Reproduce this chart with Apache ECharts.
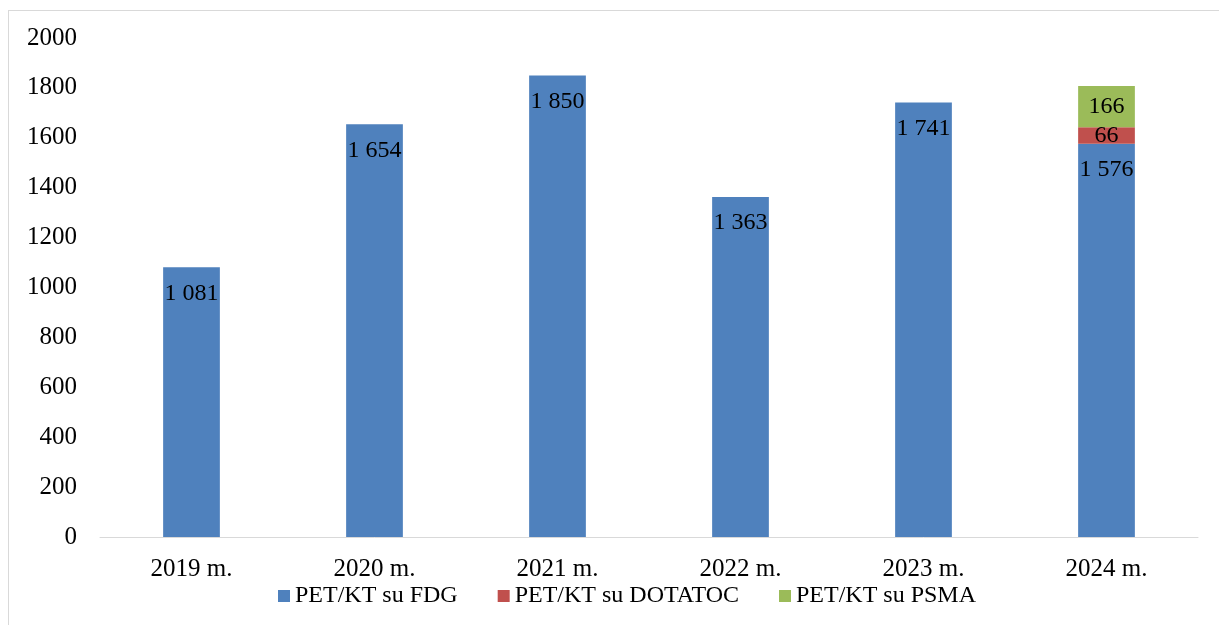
<!DOCTYPE html>
<html>
<head>
<meta charset="utf-8">
<script src="https://cdn.jsdelivr.net/npm/echarts@6/dist/echarts.min.js"></script>
<style>
html,body{margin:0;padding:0;background:#fff;}
#frame{position:absolute;left:8px;top:10px;width:1211px;height:615px;border-left:1px solid #d9d9d9;border-top:1px solid #d9d9d9;}
#chart{position:absolute;left:0;top:0;width:1219px;height:625px;}
</style>
</head>
<body>
<div id="frame"></div>
<div id="chart"></div>
<script>
const categories = ['2019 m.', '2020 m.', '2021 m.', '2022 m.', '2023 m.', '2024 m.'];
const fdg = [1081, 1654, 1850, 1363, 1741, 1576];
const dotatoc = [null, null, null, null, null, 66];
const psma = [null, null, null, null, null, 166];
const seriesNames = ['PET/KT su FDG', 'PET/KT su DOTATOC', 'PET/KT su PSMA'];
const yTicks = [0, 2000, 200];

const FONT = '"Liberation Serif", "Times New Roman", serif';
function fmt(p) {
  if (p.value == null || p.value === 0) return '';
  return String(p.value).replace(/\B(?=(\d{3})+(?!\d))/g, ' ');
}
const chart = echarts.init(document.getElementById('chart'), null, {renderer: 'canvas'});
chart.setOption({
  animation: false,
  backgroundColor: 'transparent',
  textStyle: {fontFamily: FONT},
  grid: {left: 100, right: 21, top: 38, bottom: 88, containLabel: false},
  legend: {
    data: seriesNames,
    bottom: 12,
    left: 273,
    itemWidth: 12,
    itemHeight: 12,
    itemGap: 40,
    icon: 'rect',
    textStyle: {fontFamily: FONT, fontSize: 24, color: '#000', padding: [0, 0, 0, 0]}
  },
  xAxis: {
    type: 'category',
    data: categories,
    axisLine: {lineStyle: {color: '#d9d9d9', width: 1}},
    axisTick: {show: false},
    axisLabel: {fontFamily: FONT, fontSize: 25, color: '#000', margin: 20}
  },
  yAxis: {
    type: 'value',
    min: yTicks[0],
    max: yTicks[1],
    interval: yTicks[2],
    splitLine: {show: false},
    axisLine: {show: false},
    axisTick: {show: false},
    axisLabel: {fontFamily: FONT, fontSize: 25, color: '#000', margin: 23,
      formatter: function (v) { return String(v); }}
  },
  series: [
    {
      name: seriesNames[0], type: 'bar', stack: 'a', data: fdg, barWidth: '31%',
      itemStyle: {color: '#4f81bd'},
      label: {show: true, position: 'insideTop', distance: 14, formatter: fmt,
        fontFamily: FONT, fontSize: 24, color: '#000'}
    },
    {
      name: seriesNames[1], type: 'bar', stack: 'a', data: dotatoc, barWidth: '31%',
      itemStyle: {color: '#c0504d'},
      label: {show: true, position: 'inside', formatter: fmt,
        fontFamily: FONT, fontSize: 24, color: '#000'}
    },
    {
      name: seriesNames[2], type: 'bar', stack: 'a', data: psma, barWidth: '31%',
      itemStyle: {color: '#9bbb59'},
      label: {show: true, position: 'inside', formatter: fmt,
        fontFamily: FONT, fontSize: 24, color: '#000'}
    }
  ]
});
</script>
</body>
</html>
